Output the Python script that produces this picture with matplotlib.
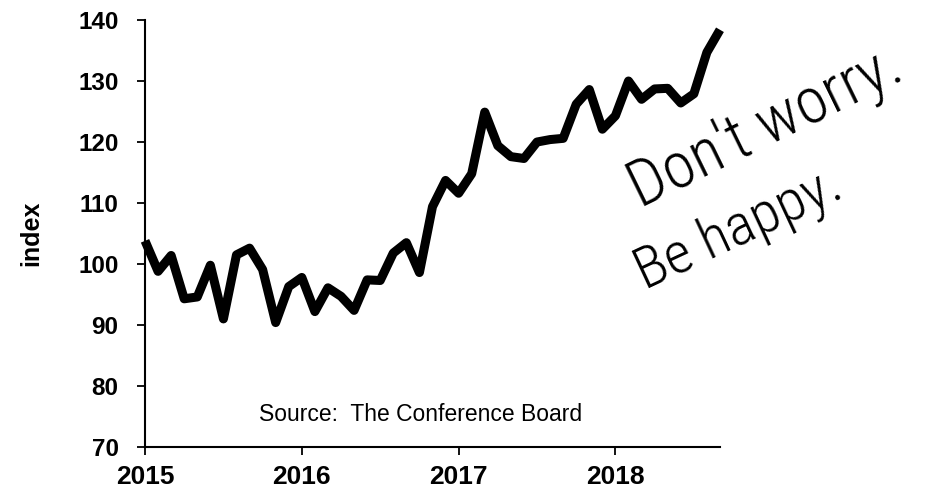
import matplotlib
matplotlib.use("Agg")
import matplotlib.pyplot as plt
import numpy as np

# Consumer confidence index, monthly Jan 2015 - Sep 2018
values_2015 = [103.8, 98.8, 101.4, 94.3, 94.6, 99.8, 91.0, 101.5, 102.6, 99.1, 90.4, 96.3]
values_2016 = [97.8, 92.2, 96.1, 94.7, 92.4, 97.4, 97.3, 101.8, 103.5, 98.6, 109.4, 113.7]
values_2017 = [111.6, 114.8, 124.9, 119.4, 117.6, 117.3, 120.0, 120.4, 120.6, 126.2, 128.6, 122.1]
values_2018 = [124.3, 130.0, 127.0, 128.7, 128.8, 126.4, 127.9, 134.7, 138.4]
start_year = 2015
year_ticks = [2015, 2016, 2017, 2018]
y_ticks = [70, 80, 90, 100, 110, 120, 130, 140]

values = values_2015 + values_2016 + values_2017 + values_2018
x = [start_year + i / 12 for i in range(len(values))]

plt.rcParams['font.family'] = ['Liberation Sans', 'DejaVu Sans']

fig = plt.figure(figsize=(9.26, 4.94), dpi=100)
ax = fig.add_axes([0.1566, 0.0951, 0.7775 - 0.1566, 0.9595 - 0.0951])

ax.plot(x, values, color='black', lw=6.5, solid_joinstyle='round', solid_capstyle='butt', clip_on=False)

ax.set_xlim(start_year, x[-1])
ax.set_ylim(70, 140)
ax.set_xticks(year_ticks)
ax.set_xticklabels([str(y) for y in year_ticks])
ax.set_yticks(y_ticks)

for s in ['top', 'right']:
    ax.spines[s].set_visible(False)
for s in ['left', 'bottom']:
    ax.spines[s].set_linewidth(1.5)
    ax.spines[s].set_color('black')

ax.tick_params(axis='both', direction='out', length=6, width=1.3)
ax.tick_params(axis='y', pad=13, labelsize=17.5)
ax.tick_params(axis='x', pad=7, labelsize=19)
for lab in ax.get_xticklabels() + ax.get_yticklabels():
    lab.set_fontweight('bold')

ax.set_ylabel('index', fontsize=18, fontweight='bold', labelpad=25)

ax.text(0.48, 0.075, 'Source:  The Conference Board', transform=ax.transAxes,
        ha='center', va='center', fontsize=16.5)

hand = ['Roboto Condensed', 'Roboto', 'DejaVu Sans']
fig.text(0.691, 0.579, "Don't worry.", rotation=26, fontsize=46, fontweight='light',
         family=hand, ha='left', va='baseline', rotation_mode='anchor')
fig.text(0.696, 0.413, "Be happy.", rotation=25, fontsize=42, fontweight='light',
         family=hand, ha='left', va='baseline', rotation_mode='anchor')

fig.savefig('out.png', dpi=100)
